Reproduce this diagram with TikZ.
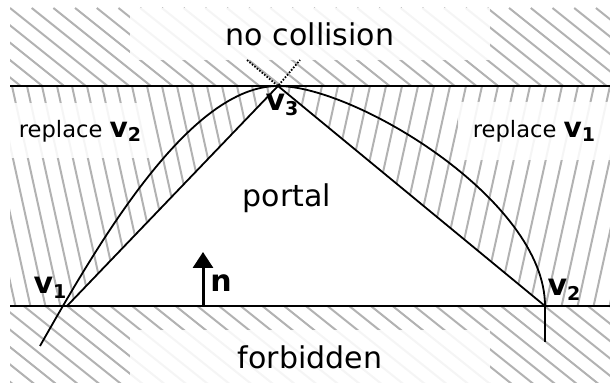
\documentclass[tikz,border=0pt]{standalone}
\usepackage{fontspec}
\setmainfont{DejaVu Sans}
\usetikzlibrary{arrows.meta,positioning}

\newcommand{\vsub}[2]{{\fontsize{#1}{#1}\selectfont\bfseries v\raisebox{-2.2pt}{\fontsize{9.5}{9.5}\selectfont #2}}}

\begin{document}
\begin{tikzpicture}[
  x=0.5pt, y=-0.5pt,
  hatch/.style={draw=black!30, line width=1pt},
  edge/.style={draw=black, line width=0.9pt},
  lbox/.style={fill=white, fill opacity=0.88, text opacity=1, inner sep=0pt},
  big/.style={font=\fontsize{15}{18}\selectfont},
  small/.style={font=\fontsize{11.3}{13}\selectfont},
  >=Triangle
]
  \useasboundingbox (0,0) rectangle (610,383);

  \begin{scope}
    \clip (10,8) rectangle (610,86);
    \foreach \i in {-5,...,28} \draw[hatch] (10+\i*21.7,8) -- ++(110,88);
  \end{scope}
  \begin{scope}
    \clip (10,306) rectangle (610,383);
    \foreach \i in {-5,...,28} \draw[hatch] (2+\i*21.7,306) -- ++(110,88);
  \end{scope}
  \begin{scope}
    \clip (10,86) rectangle (278,306);
    \foreach \i in {-4,...,18} \draw[hatch] (12+\i*15,86) -- ++(48.4,220);
  \end{scope}
  \begin{scope}
    \clip (278,86) rectangle (610,306);
    \foreach \i in {0,...,24} \draw[hatch] (290+\i*16,86) -- ++(-48.4,220);
  \end{scope}

  \coordinate (v1) at (67,306);
  \coordinate (v2) at (545,306);
  \coordinate (v3) at (278,86);
  \coordinate (lend) at (40,346);
  \coordinate (rend) at (545,342);
  \coordinate (topl) at (10,86);
  \coordinate (topr) at (610,86);
  \coordinate (botl) at (10,306);
  \coordinate (botr) at (610,306);
  \coordinate (dotl) at (247,60);
  \coordinate (dotr) at (300,60);
  \coordinate (nfoot) at (203,306);
  \coordinate (ntip) at (203,252);

  \fill[white] (v1) -- (v3) -- (v2) -- cycle;

  \node[lbox, big, minimum width=180pt, minimum height=26pt] (nocoll) at (310,34) {no collision};
  \node[lbox, big, minimum width=180pt, minimum height=26.5pt] (forbid) at (310,357) {forbidden};
  \node[lbox, small, minimum width=70pt, minimum height=27.5pt] (repl2) at (80,131) {replace \vsub{14}{2}};
  \node[lbox, small, minimum width=76pt, minimum height=29pt] (repl1) at (534,131) {replace \vsub{14}{1}};

  \draw[edge] (topl) -- (topr);
  \draw[edge] (botl) -- (botr);
  \draw[edge] (v1) -- (v3) -- (v2);
  \draw[edge] (lend) .. controls (100,240) and (190,86) .. (v3)
              .. controls (355,86) and (545,200) .. (v2) -- (rend);
  \draw[edge, dash pattern=on 0.8pt off 0.8pt] (dotl) -- (v3) -- (dotr);
  \draw[->, line width=1.5pt, arrows={-Triangle[width=10pt,length=8pt]}] (nfoot) -- (ntip);

  \node[big] (portal) at (287,198) {portal};
  \node (lv1) at (50,288) {\vsub{15}{1}};
  \node (lv2) at (564,290) {\vsub{15}{2}};
  \node (lv3) at (282,105) {\vsub{15}{3}};
  \node[font=\fontsize{15}{18}\selectfont\bfseries] (ln) at (221,283) {n};
\end{tikzpicture}
\end{document}
